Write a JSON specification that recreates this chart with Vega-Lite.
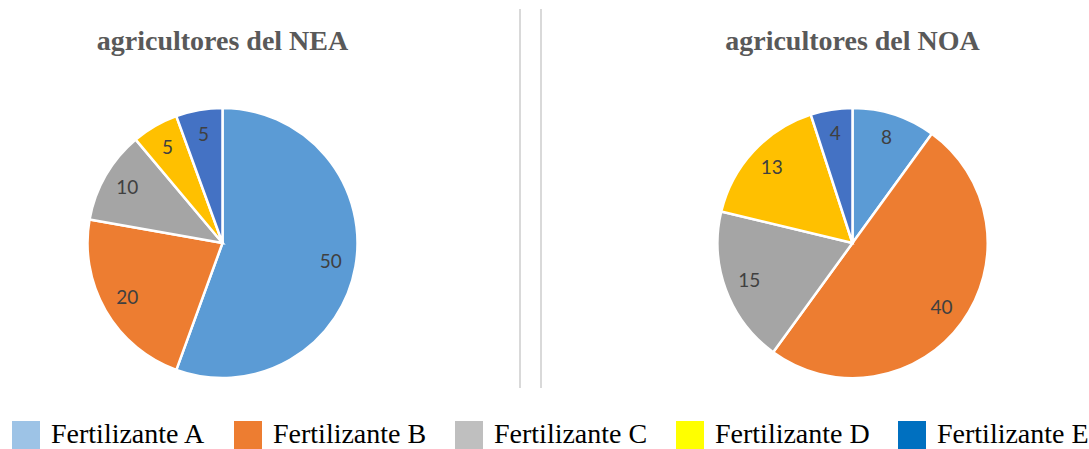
{
  "$schema": "https://vega.github.io/schema/vega-lite/v6.json",
  "padding": {"left": 0, "top": 8, "right": 0, "bottom": 0},
  "background": "white",
  "config": {"view": {"stroke": null}, "legend": {"labelFont": "Liberation Serif"}},
  "datasets": {
    "fert": [
      {"region": "NEA", "fert": "Fertilizante A", "value": 50},
      {"region": "NEA", "fert": "Fertilizante B", "value": 20},
      {"region": "NEA", "fert": "Fertilizante C", "value": 10},
      {"region": "NEA", "fert": "Fertilizante D", "value": 5},
      {"region": "NEA", "fert": "Fertilizante E", "value": 5},
      {"region": "NOA", "fert": "Fertilizante A", "value": 8},
      {"region": "NOA", "fert": "Fertilizante B", "value": 40},
      {"region": "NOA", "fert": "Fertilizante C", "value": 15},
      {"region": "NOA", "fert": "Fertilizante D", "value": 13},
      {"region": "NOA", "fert": "Fertilizante E", "value": 4}
    ],
    "lines": [{"line": "1"}, {"line": "2"}]
  },
  "hconcat": [
    {
      "data": {"name": "fert"},
      "transform": [{"filter": "datum.region == 'NEA'"}],
      "width": 445,
      "height": 468,
      "title": {"text": "agricultores del NEA", "font": "Liberation Serif", "fontSize": 28, "fontWeight": "bold", "color": "#595959", "offset": -47, "anchor": "middle"},
      "layer": [
        {
          "mark": {"type": "arc", "outerRadius": 135, "stroke": "white", "strokeWidth": 2.5},
          "encoding": {
            "theta": {"field": "value", "type": "quantitative", "stack": true},
            "order": {"field": "fert", "sort": "ascending"},
            "color": {"field": "fert", "type": "nominal",
              "scale": {"domain": ["Fertilizante A", "Fertilizante B", "Fertilizante C", "Fertilizante D", "Fertilizante E"], "range": ["#5B9BD5", "#ED7D31", "#A5A5A5", "#FFC000", "#4472C4"]},
              "legend": null}
          }
        },
        {
          "mark": {"type": "text", "radius": 110, "font": "Lato", "fontSize": 19, "color": "#404040"},
          "encoding": {
            "theta": {"field": "value", "type": "quantitative", "stack": true},
            "order": {"field": "fert", "sort": "ascending"},
            "text": {"field": "value", "type": "quantitative"},
            "detail": {"field": "fert", "type": "nominal"}
          }
        },
        {
          "mark": {"type": "square", "opacity": 0},
          "encoding": {
            "fill": {"field": "fert", "type": "nominal",
              "scale": {"domain": ["Fertilizante A", "Fertilizante B", "Fertilizante C", "Fertilizante D", "Fertilizante E"], "range": ["#9DC3E6", "#ED7D31", "#BFBFBF", "#FFFF00", "#0070C0"]},
              "legend": {"orient": "none", "legendX": 12, "legendY": 412, "direction": "horizontal", "columns": 5, "title": null,
                "symbolType": "square", "symbolSize": 784, "symbolOpacity": 1, "symbolStrokeWidth": 0,
                "labelFont": "Liberation Serif", "labelFontSize": 28, "labelColor": "#000000", "labelOffset": 11, "columnPadding": 28, "labelLimit": 400,
                "encode": {
                  "symbols": {"update": {"opacity": {"value": 1}, "fillOpacity": {"value": 1}}},
                  "labels": {"update": {"font": {"value": "Liberation Serif"}, "fontSize": {"value": 28}}}
                }}
            }
          }
        }
      ]
    },
    {
      "data": {"name": "lines"},
      "width": 21,
      "height": 379,
      "mark": {"type": "rule", "color": "#D9D9D9", "strokeWidth": 2},
      "encoding": {"x": {"field": "line", "type": "ordinal", "scale": {"type": "point", "padding": 0}, "axis": null}}
    },
    {
      "data": {"name": "fert"},
      "transform": [{"filter": "datum.region == 'NOA'"}],
      "width": 473,
      "height": 468,
      "title": {"text": "agricultores del NOA", "font": "Liberation Serif", "fontSize": 28, "fontWeight": "bold", "color": "#595959", "offset": -47, "anchor": "middle"},
      "encoding": {
        "theta": {"field": "value", "type": "quantitative", "stack": true},
        "order": {"field": "fert", "sort": "ascending"}
      },
      "layer": [
        {
          "mark": {"type": "arc", "outerRadius": 135, "stroke": "white", "strokeWidth": 2.5},
          "encoding": {
            "color": {"field": "fert", "type": "nominal",
              "scale": {"domain": ["Fertilizante A", "Fertilizante B", "Fertilizante C", "Fertilizante D", "Fertilizante E"], "range": ["#5B9BD5", "#ED7D31", "#A5A5A5", "#FFC000", "#4472C4"]},
              "legend": null}
          }
        },
        {
          "mark": {"type": "text", "radius": 110, "font": "Lato", "fontSize": 19, "color": "#404040"},
          "encoding": {"text": {"field": "value", "type": "quantitative"}, "detail": {"field": "fert", "type": "nominal"}}
        }
      ]
    }
  ],
  "spacing": 75,
  "bounds": "flush",
  "resolve": {"scale": {"theta": "independent", "fill": "independent"}, "legend": {"fill": "independent"}}
}
